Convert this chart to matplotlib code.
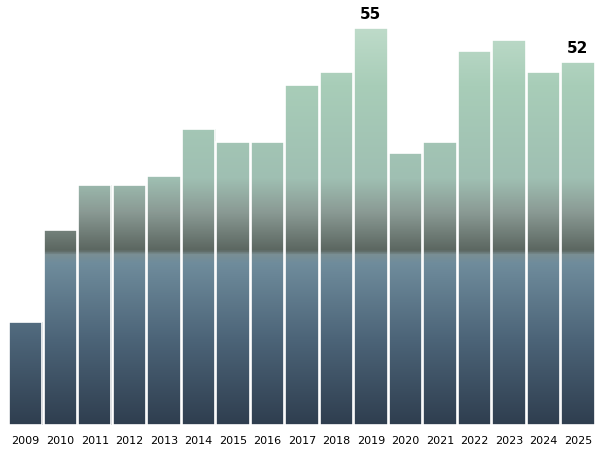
import numpy as np
import matplotlib
matplotlib.use("Agg")
import matplotlib.pyplot as plt
from matplotlib.colors import LinearSegmentedColormap

years = [str(y) for y in range(2009, 2026)]
values = [29.1, 37.2, 41.2, 41.2, 42.0, 46.1, 45.0, 45.0, 50.0, 51.1, 55.0,
          44.0, 45.0, 53.0, 54.0, 51.1, 52.0]
labeled = {"2019": 55, "2025": 52}

fig = plt.figure(figsize=(6, 4.72), dpi=100)
ax = fig.add_axes([0.013, 0.1, 0.98, 0.9])
ymin, ymax = 20, 57.5

x = np.arange(len(years))
bars = ax.bar(x, [v - ymin for v in values], bottom=ymin, width=0.97,
              color="none", edgecolor="white", linewidth=1.2)

# photo-like vertical gradient: water at bottom, skyline band, teal sky on top
cmap = LinearSegmentedColormap.from_list("photo", [
    (0.00, "#2f3e4f"), (0.20, "#4c6478"), (0.38, "#6f8c9c"), (0.40, "#7a8f94"),
    (0.41, "#5b6660"), (0.50, "#8a9a94"), (0.58, "#9fbfb2"), (0.80, "#a8cdb8"),
    (1.00, "#c9e2d2")])
grad = np.linspace(0, 1, 256).reshape(-1, 1)
for b in bars:
    im = ax.imshow(grad, cmap=cmap, origin="lower", aspect="auto",
                   extent=(-0.6, len(years) - 0.4, ymin, ymax), zorder=1)
    im.set_clip_path(b)
for b in bars:
    b.set_zorder(2)

for i, (yr, v) in enumerate(zip(years, values)):
    if yr in labeled:
        ax.text(i, v + 0.6, str(labeled[yr]), ha="center", va="bottom",
                fontsize=11, fontweight="bold")

ax.set_xlim(-0.52, len(years) - 0.48)
ax.set_ylim(ymin, ymax)
ax.set_xticks(x)
ax.set_xticklabels(years, fontsize=8)
ax.set_yticks([])
ax.tick_params(axis="x", length=0, pad=8)
for s in ax.spines.values():
    s.set_visible(False)

fig.savefig("out.png", dpi=100)
